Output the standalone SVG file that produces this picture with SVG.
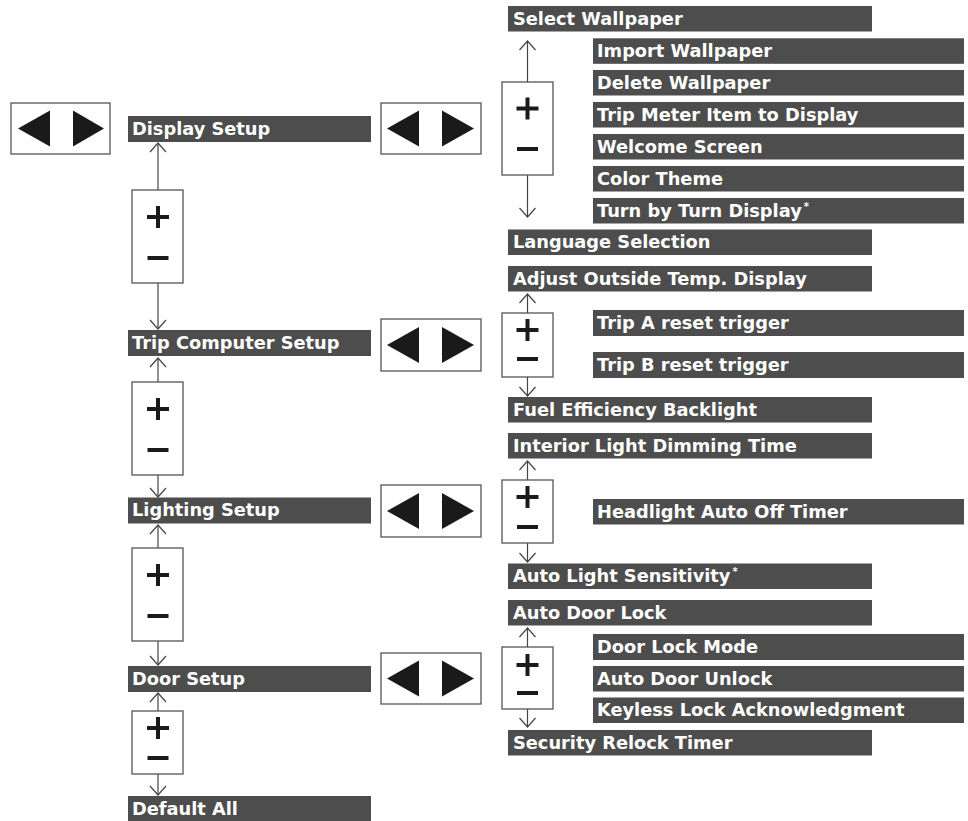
<svg xmlns="http://www.w3.org/2000/svg" width="968" height="821" viewBox="0 0 968 821">
<style>
.bar{fill:#4d4d4d}
.lbl{fill:#ffffff;font-family:"DejaVu Sans","Open Sans",sans-serif;font-weight:700;font-size:17.8px}
.sup{font-size:10px}
.box{fill:#ffffff;stroke:#555555;stroke-width:1.3}
.tri{fill:#1a1a1a}
.glyph{stroke:#1a1a1a;stroke-width:4;fill:none}
.con{stroke:#444444;stroke-width:1.2;fill:none;marker-end:url(#arr)}
</style>
<defs>
<marker id="arr" markerUnits="userSpaceOnUse" viewBox="-10 -10 12 20" markerWidth="12" markerHeight="20" refX="0" refY="0" orient="auto">
<path d="M-9,-8 L0,0 L-9,8" fill="none" stroke="#444444" stroke-width="1.2"/>
</marker>
</defs>

<g id="connectors">
<path class="con" d="M158,190 V143"/>
<path class="con" d="M158,283 V329"/>
<path class="con" d="M158,382 V358"/>
<path class="con" d="M158,475 V497"/>
<path class="con" d="M158,548 V525"/>
<path class="con" d="M158,641 V665"/>
<path class="con" d="M158,711 V693"/>
<path class="con" d="M158,774 V795"/>
<path class="con" d="M527.5,82 V41"/>
<path class="con" d="M527.5,175 V217"/>
<path class="con" d="M527.5,313 V294"/>
<path class="con" d="M527.5,377 V396"/>
<path class="con" d="M527.5,480 V461"/>
<path class="con" d="M527.5,543 V562"/>
<path class="con" d="M527.5,647 V628"/>
<path class="con" d="M527.5,709 V727"/>
</g>

<!-- arrow boxes -->
<g id="arrows-main"><rect class="box" x="11" y="103" width="99" height="51"/><polygon class="tri" points="18,128.5 50,110.5 50,146.5"/><polygon class="tri" points="73,110.5 73,146.5 104,128.5"/></g>
<g id="arrows-display"><rect class="box" x="381" y="103" width="100" height="51"/><polygon class="tri" points="387,128.5 419,110.5 419,146.5"/><polygon class="tri" points="442,110.5 442,146.5 474,128.5"/></g>
<g id="arrows-trip"><rect class="box" x="381" y="319" width="100" height="52"/><polygon class="tri" points="387,345 419,327 419,363"/><polygon class="tri" points="442,327 442,363 474,345"/></g>
<g id="arrows-lighting"><rect class="box" x="381" y="485" width="100" height="52"/><polygon class="tri" points="387,511 419,493 419,529"/><polygon class="tri" points="442,493 442,529 474,511"/></g>
<g id="arrows-door"><rect class="box" x="381" y="653" width="100" height="51"/><polygon class="tri" points="387,678.5 419,660.5 419,696.5"/><polygon class="tri" points="442,660.5 442,696.5 474,678.5"/></g>

<!-- plus/minus boxes -->
<g id="pm-left-1"><rect class="box" x="132" y="190" width="51" height="93"/><path class="glyph" d="M147,217 H169 M158,206 V228 M147.5,258 H168.5"/></g>
<g id="pm-left-2"><rect class="box" x="132" y="382" width="51" height="93"/><path class="glyph" d="M147,409 H169 M158,398 V420 M147.5,450 H168.5"/></g>
<g id="pm-left-3"><rect class="box" x="132" y="548" width="51" height="93"/><path class="glyph" d="M147,575 H169 M158,564 V586 M147.5,616 H168.5"/></g>
<g id="pm-left-4"><rect class="box" x="132" y="711" width="51" height="63"/><path class="glyph" d="M147,728 H169 M158,717 V739 M147.5,758 H168.5"/></g>
<g id="pm-right-1"><rect class="box" x="502" y="82" width="51" height="93"/><path class="glyph" d="M516.5,108.5 H538.5 M527.5,97.5 V119.5 M517,149 H538"/></g>
<g id="pm-right-2"><rect class="box" x="502" y="313" width="51" height="64"/><path class="glyph" d="M516.5,330 H538.5 M527.5,319 V341 M517,359 H538"/></g>
<g id="pm-right-3"><rect class="box" x="502" y="480" width="51" height="63"/><path class="glyph" d="M516.5,497 H538.5 M527.5,486 V508 M517,527 H538"/></g>
<g id="pm-right-4"><rect class="box" x="502" y="647" width="51" height="62"/><path class="glyph" d="M516.5,665 H538.5 M527.5,654 V676 M517,693 H538"/></g>

<!-- left column -->
<g id="display-setup"><rect class="bar" x="128" y="116" width="243" height="26"/><text class="lbl" x="132" y="134.5">Display Setup</text></g>
<g id="trip-computer-setup"><rect class="bar" x="128" y="330" width="243" height="26"/><text class="lbl" x="132" y="348.5">Trip Computer Setup</text></g>
<g id="lighting-setup"><rect class="bar" x="128" y="497.5" width="243" height="26"/><text class="lbl" x="132" y="516">Lighting Setup</text></g>
<g id="door-setup"><rect class="bar" x="128" y="666" width="243" height="26"/><text class="lbl" x="132" y="684.5">Door Setup</text></g>
<g id="default-all"><rect class="bar" x="128" y="796" width="243" height="26"/><text class="lbl" x="132" y="814.5">Default All</text></g>

<!-- right main items -->
<g id="select-wallpaper"><rect class="bar" x="508" y="6" width="364" height="25.5"/><text class="lbl" x="513" y="24.5">Select Wallpaper</text></g>
<g id="language-selection"><rect class="bar" x="508" y="229.5" width="364" height="25.5"/><text class="lbl" x="513" y="248">Language Selection</text></g>
<g id="adjust-outside-temp"><rect class="bar" x="508" y="266" width="364" height="25.5"/><text class="lbl" x="513" y="284.5">Adjust Outside Temp. Display</text></g>
<g id="fuel-efficiency-backlight"><rect class="bar" x="508" y="397" width="364" height="25.5"/><text class="lbl" x="513" y="415.5">Fuel Efficiency Backlight</text></g>
<g id="interior-light-dimming"><rect class="bar" x="508" y="433" width="364" height="25.5"/><text class="lbl" x="513" y="451.5">Interior Light Dimming Time</text></g>
<g id="auto-light-sensitivity"><rect class="bar" x="508" y="563.5" width="364" height="25.5"/><text class="lbl" x="513" y="582">Auto Light Sensitivity<tspan class="sup" dx="2" dy="-7">*</tspan></text></g>
<g id="auto-door-lock"><rect class="bar" x="508" y="600" width="364" height="25.5"/><text class="lbl" x="513" y="618.5">Auto Door Lock</text></g>
<g id="security-relock-timer"><rect class="bar" x="508" y="730" width="364" height="25.5"/><text class="lbl" x="513" y="748.5">Security Relock Timer</text></g>

<!-- sub items -->
<g id="import-wallpaper"><rect class="bar" x="593" y="38.3" width="371" height="25.5"/><text class="lbl" x="597" y="56.8">Import Wallpaper</text></g>
<g id="delete-wallpaper"><rect class="bar" x="593" y="70" width="371" height="25.5"/><text class="lbl" x="597" y="88.5">Delete Wallpaper</text></g>
<g id="trip-meter-item"><rect class="bar" x="593" y="102" width="371" height="25.5"/><text class="lbl" x="597" y="120.5">Trip Meter Item to Display</text></g>
<g id="welcome-screen"><rect class="bar" x="593" y="134" width="371" height="25.5"/><text class="lbl" x="597" y="152.5">Welcome Screen</text></g>
<g id="color-theme"><rect class="bar" x="593" y="166" width="371" height="25.5"/><text class="lbl" x="597" y="184.5">Color Theme</text></g>
<g id="turn-by-turn"><rect class="bar" x="593" y="198" width="371" height="25.5"/><text class="lbl" x="597" y="216.5">Turn by Turn Display<tspan class="sup" dx="2" dy="-7">*</tspan></text></g>
<g id="trip-a-reset"><rect class="bar" x="593" y="310" width="371" height="26"/><text class="lbl" x="597" y="328.5">Trip A reset trigger</text></g>
<g id="trip-b-reset"><rect class="bar" x="593" y="352" width="371" height="26"/><text class="lbl" x="597" y="370.5">Trip B reset trigger</text></g>
<g id="headlight-auto-off"><rect class="bar" x="593" y="499" width="371" height="25.5"/><text class="lbl" x="597" y="517.5">Headlight Auto Off Timer</text></g>
<g id="door-lock-mode"><rect class="bar" x="593" y="634" width="371" height="26"/><text class="lbl" x="597" y="652.5">Door Lock Mode</text></g>
<g id="auto-door-unlock"><rect class="bar" x="593" y="666" width="371" height="25.5"/><text class="lbl" x="597" y="684.5">Auto Door Unlock</text></g>
<g id="keyless-lock-ack"><rect class="bar" x="593" y="697.5" width="371" height="25.5"/><text class="lbl" x="597" y="716">Keyless Lock Acknowledgment</text></g>
</svg>
